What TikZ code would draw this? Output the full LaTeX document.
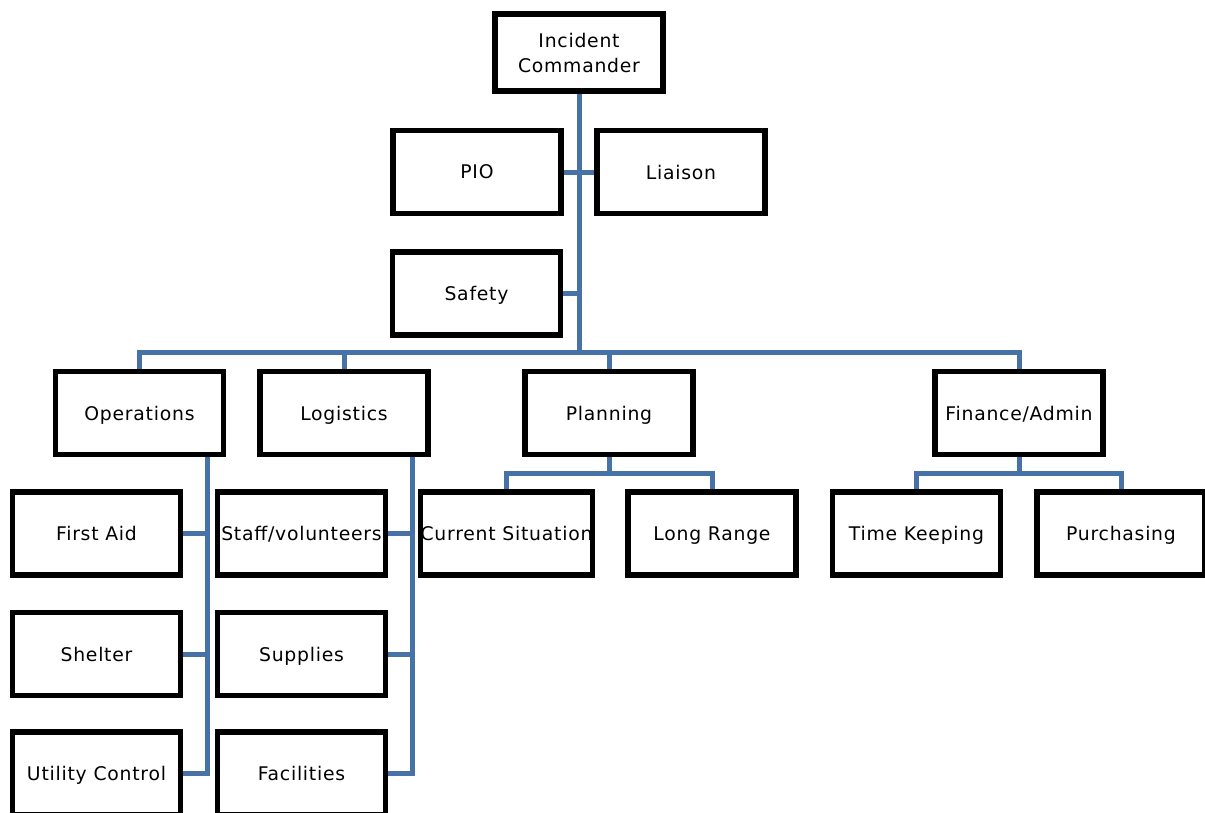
\documentclass[tikz,border=0pt]{standalone}
\usepackage{fontspec}
\setmainfont{DejaVu Sans}[LetterSpace=4]
\usetikzlibrary{backgrounds}
\definecolor{linkblue}{RGB}{70,114,168}
\tikzset{
  box/.style={draw=black, line width=5.5pt, fill=white, minimum width=168pt, minimum height=83pt, inner sep=0pt, text depth=0pt, font=\fontsize{18.8}{25}\selectfont, align=center},
  conn/.style={draw=linkblue, line width=5pt}
}
\begin{document}
\begin{tikzpicture}[x=1pt,y=-1pt]
\useasboundingbox (0,0) rectangle (1205,812);
% boxes
\node[box, minimum height=77pt] (ic) at (579,52.5) {Incident\\Commander};
\node[box] (pio) at (477,172) {PIO};
\node[box] (liaison) at (681,172) {Liaison};
\node[box] (safety) at (476.5,293.5) {Safety};
\node[box] (ops) at (139.5,413) {Operations};
\node[box] (log) at (344,413) {Logistics};
\node[box] (plan) at (609,413) {Planning};
\node[box] (fin) at (1019,413) {Finance/Admin};
\node[box] (aid) at (96.5,533.5) {First Aid};
\node[box] (staff) at (301.5,533.5) {Staff/volunteers};
\node[box] (cur) at (506.5,533.5) {Current Situation};
\node[box] (long) at (712,533.5) {Long Range};
\node[box] (time) at (916.5,533.5) {Time Keeping};
\node[box] (purch) at (1121,533.5) {Purchasing};
\node[box] (shelter) at (96.5,654) {Shelter};
\node[box] (supplies) at (301.5,654) {Supplies};
\node[box] (util) at (96.5,773.5) {Utility Control};
\node[box] (fac) at (301.5,773.5) {Facilities};
% helper coordinates
\coordinate (bus) at (579,352);
\coordinate (sb) at (0,473);
\coordinate (opsv) at (207,0);
\coordinate (logv) at (412,0);
\begin{pgfonlayer}{background}
\draw[conn] (ic.south) -- (bus);
\draw[conn] (pio.east) -- (liaison.west);
\draw[conn] (safety.east) -- (safety.east -| ic.south);
\draw[conn] (ops.north) |- (fin.north |- bus) -- (fin.north);
\draw[conn] (log.north) -- (log.north |- bus);
\draw[conn] (plan.north) -- (plan.north |- bus);
% operations
\draw[conn] (ops.south -| opsv) -- (util.east -| opsv) -- (util.east);
\draw[conn] (aid.east) -- (aid.east -| opsv);
\draw[conn] (shelter.east) -- (shelter.east -| opsv);
% logistics
\draw[conn] (log.south -| logv) -- (fac.east -| logv) -- (fac.east);
\draw[conn] (staff.east) -- (staff.east -| logv);
\draw[conn] (supplies.east) -- (supplies.east -| logv);
% planning
\draw[conn] (plan.south) -- (plan.south |- sb);
\draw[conn] (cur.north) |- (long.north |- sb) -- (long.north);
% finance
\draw[conn] (fin.south) -- (fin.south |- sb);
\draw[conn] (time.north) |- (purch.north |- sb) -- (purch.north);
\end{pgfonlayer}
\end{tikzpicture}
\end{document}
